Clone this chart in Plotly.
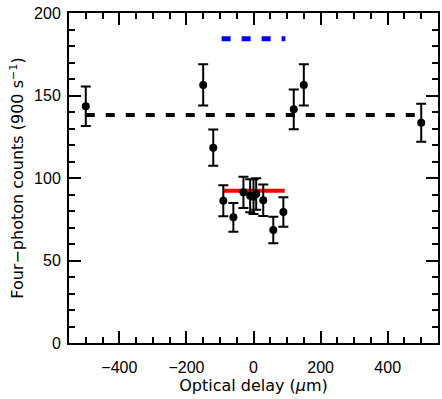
import plotly.graph_objects as go

# data points
delay = [-500, -150, -120, -90, -60, -30, -10, 0, 8, 29, 59, 89, 120, 150, 500]
counts = [143.5, 156.4, 118.4, 86.2, 76.2, 91.3, 89.3, 88.7, 90.3, 86.5, 68.5, 79.4, 141.6, 156.4, 133.5]
err = [12, 12.5, 11, 9.4, 8.7, 9.5, 10, 10.5, 9.5, 9.5, 8, 9, 12, 12.5, 11.5]

# reference levels
black_x = [-500, 500]
black_y = [138.2, 138.2]
blue_x = [-95, 95]
blue_y = [184.4, 184.4]
red_x = [-90, 93]
red_y = [92.3, 92.3]

x_ticks = [-400, -200, 0, 200, 400]
y_ticks = [0, 50, 100, 150, 200]

TICKFONT = "Liberation Sans"
TITLEFONT = "DejaVu Sans"

fig = go.Figure()
fig.add_trace(go.Scatter(x=black_x, y=black_y, mode="lines",
                         line=dict(color="black", width=4, dash="9px,11px"), showlegend=False))
fig.add_trace(go.Scatter(x=blue_x, y=blue_y, mode="lines",
                         line=dict(color="#0000ff", width=5, dash="9px,11px"), showlegend=False))
fig.add_trace(go.Scatter(x=red_x, y=red_y, mode="lines",
                         line=dict(color="#ff0000", width=4), showlegend=False))
fig.add_trace(go.Scatter(x=delay, y=counts, mode="markers",
                         marker=dict(color="black", size=8),
                         error_y=dict(type="data", array=err, color="black", thickness=2, width=5),
                         showlegend=False))

axis_common = dict(
    showline=True, linecolor="black", linewidth=2, mirror="allticks",
    ticks="inside", ticklen=12, tickwidth=2, tickcolor="black",
    showgrid=False, zeroline=False, automargin=False,
    ticklabeloverflow="allow",
    tickfont=dict(family=TICKFONT, size=16, color="black"),
)

fig.update_layout(
    width=442, height=399,
    margin=dict(l=69, r=4, t=13, b=56),
    paper_bgcolor="white", plot_bgcolor="white",
    font=dict(family=TITLEFONT, color="black"),
    xaxis=dict(range=[-550, 550], tickvals=x_ticks, ticklabelstandoff=9,
               minor=dict(ticks="inside", ticklen=6, tickwidth=2, tickcolor="black", dtick=50, tick0=0),
               title=dict(text="Optical delay (<i>μ</i>m)", font=dict(family=TITLEFONT, size=16, color="black"), standoff=3),
               **axis_common),
    yaxis=dict(range=[0, 200], tickvals=y_ticks, ticklabelstandoff=3,
               minor=dict(ticks="inside", ticklen=6, tickwidth=2, tickcolor="black", dtick=10, tick0=0),
               title=dict(text="Four−photon counts (900 s<sup>−1</sup>)", font=dict(family=TITLEFONT, size=16, color="black"), standoff=6),
               **axis_common),
)

# remove the browser's default page margin so the figure sits at the window corner
fig.write_html("out.html", config={"displayModeBar": False},
               post_script="document.body.style.margin='0';")
